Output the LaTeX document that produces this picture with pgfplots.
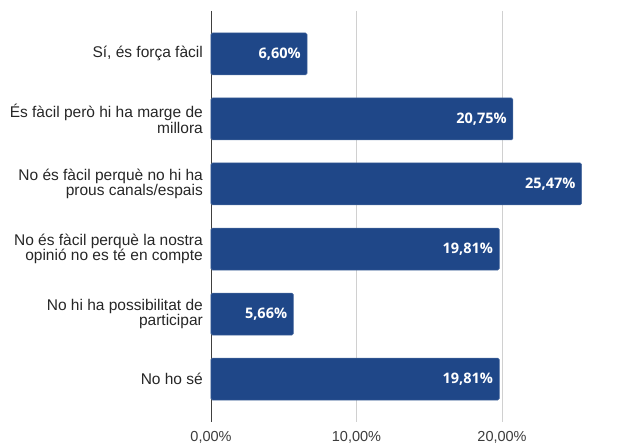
\documentclass[border=0pt]{standalone}
\usepackage{pgfplots}
\pgfplotsset{compat=1.18}
\usepackage{fontspec}
\setmainfont{Liberation Sans}
\newfontfamily\labelfont{Open Sans}
\definecolor{barBlue}{HTML}{1F4788}
\definecolor{gridGray}{HTML}{D0D0D0}
\definecolor{txtGray}{HTML}{262626}

\begin{document}
\begin{tikzpicture}
\begin{axis}[
    xbar, bar width=42pt,
    scale only axis, width=422pt, height=411pt,
    xmin=0, xmax=29, ymin=-0.66, ymax=5.66,
    y dir=reverse,
    axis x line*=bottom, x axis line style={draw=none},
    axis y line*=left, y axis line style={-, draw=black!75, line width=0.8pt},
    ytick={0,...,5},
    yticklabels={
        {Sí, és força fàcil},
        {És fàcil però hi ha marge de\\millora},
        {No és fàcil perquè no hi ha\\prous canals/espais},
        {No és fàcil perquè la nostra\\opinió no es té en compte},
        {No hi ha possibilitat de\\participar},
        {No ho sé}},
    yticklabel style={font=\fontsize{15.5}{15.5}\selectfont, text=txtGray,
        align=right, inner sep=0pt, xshift=-8pt},
    xtick={0,10,20},
    xticklabels={{0,00\%},{10,00\%},{20,00\%}},
    xticklabel style={font=\fontsize{14.5}{15}\selectfont, text=txtGray!90,
        inner sep=0pt, yshift=-9pt},
    major tick length=0pt,
    xmajorgrids=true, grid style={gridGray, line width=0.8pt},
    point meta=x,
    nodes near coords={\pgfmathprintnumber[fixed,fixed zerofill,precision=2,use comma,assume math mode=true]{\pgfplotspointmeta}\%},
    nodes near coords style={font=\labelfont\bfseries\fontsize{14.5}{14.5}\selectfont,
        text=white, anchor=east, inner sep=0pt, xshift=-6pt},
    clip=false,
]
\addplot[fill=barBlue, draw=barBlue!80!white, line width=0.5pt, rounded corners=1.5pt] coordinates {
    (6.60,0) (20.75,1) (25.47,2) (19.81,3) (5.66,4) (19.81,5)
};
\end{axis}
\pgfresetboundingbox
\path (current axis.south west) ++(-211pt,-21pt) rectangle ++(637pt,443pt);
\end{tikzpicture}
\end{document}
